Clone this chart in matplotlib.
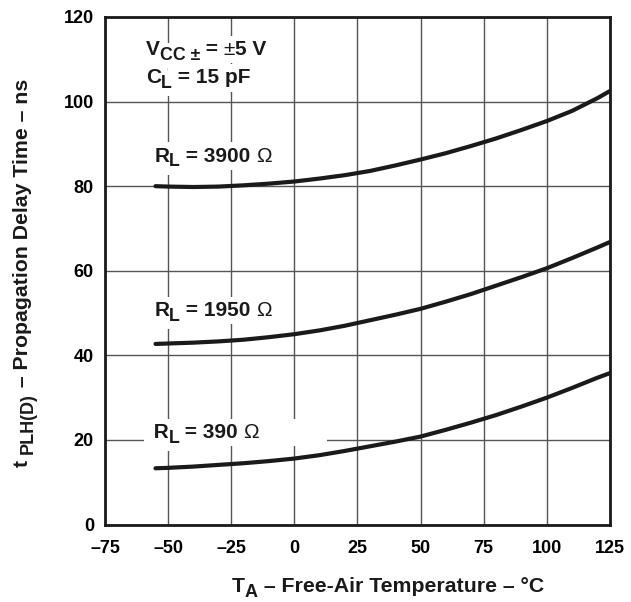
import matplotlib
matplotlib.use('Agg')
import matplotlib.pyplot as plt

plt.rcParams['font.family'] = ['Liberation Sans', 'DejaVu Sans']
plt.rcParams['font.weight'] = 'bold'

# temperature (degC)
temp = [-55, -50, -40, -30, -20, -10, 0, 10, 20, 30, 40, 50, 60, 70, 80, 90, 100, 110, 120, 125]
# propagation delay (ns) per load resistance
t_3900 = [80.0, 79.9, 79.8, 79.9, 80.2, 80.6, 81.1, 81.8, 82.6, 83.6, 84.9, 86.3, 87.8, 89.5,
          91.3, 93.3, 95.4, 97.8, 100.8, 102.5]
t_1950 = [42.7, 42.8, 43.0, 43.3, 43.7, 44.3, 45.0, 45.9, 47.0, 48.3, 49.6, 51.0, 52.7, 54.5,
          56.5, 58.5, 60.6, 63.0, 65.5, 66.8]
t_390 = [13.3, 13.4, 13.7, 14.1, 14.5, 15.0, 15.6, 16.4, 17.4, 18.5, 19.6, 20.8, 22.4, 24.1,
         25.9, 27.9, 30.0, 32.3, 34.7, 35.8]

xticks = [-75, -50, -25, 0, 25, 50, 75, 100, 125]
xlabels = ['\u201375', '\u201350', '\u201325', '0', '25', '50', '75', '100', '125']
yticks = [0, 20, 40, 60, 80, 100, 120]

SUB = 0.85
SHIFT = 3.5  # subscript drop, points


def rich(ax, x, y, parts, transform, size=15, color='#1a1a1a', bbox=None, rotation=0, z=3):
    # parts: (text, kind) with kind 'main', 'sub' or 'reg'
    prev = None
    prev_sub = False
    for s, kind in parts:
        sub = kind == 'sub'
        fs = size * SUB if sub else size
        fw = 'normal' if kind == 'reg' else 'bold'
        if prev is None:
            prev = ax.text(x, y, s, fontsize=fs, fontweight=fw, color=color, transform=transform,
                           ha='left', va='baseline', rotation=rotation, rotation_mode='anchor',
                           bbox=bbox, zorder=z)
        else:
            dy = 0
            if sub and not prev_sub:
                dy = -SHIFT
            elif prev_sub and not sub:
                dy = SHIFT
            if rotation == 0:
                prev = ax.annotate(s, xy=(1, 0), xycoords=prev, xytext=(0, dy),
                                   textcoords='offset points', ha='left', va='bottom',
                                   fontsize=fs, fontweight=fw, color=color, bbox=bbox, zorder=z)
            else:
                prev = ax.annotate(s, xy=(1, 1), xycoords=prev, xytext=(-dy, 0),
                                   textcoords='offset points', ha='right', va='bottom',
                                   rotation=rotation, fontsize=fs, fontweight=fw, color=color,
                                   bbox=bbox, zorder=z)
        prev_sub = sub


def boxed(ax, x, y, parts):
    box = dict(facecolor='white', edgecolor='none', pad=3)
    rich(ax, x, y, parts, ax.transData, color='white', bbox=box, z=3)
    rich(ax, x, y, parts, ax.transData, z=3.5)


fig = plt.figure(figsize=(6.31, 6.02), dpi=100)
ax = fig.add_axes([0.1664, 0.1287, 0.8003, 0.8431])

for x in xticks:
    ax.axvline(x, color='#555555', lw=1.0, zorder=1)
for y in yticks:
    ax.axhline(y, color='#555555', lw=1.0, zorder=1)

for ys in (t_3900, t_1950, t_390):
    ax.plot(temp, ys, color='#1a1a1a', lw=3.0, solid_capstyle='round', zorder=4)

boxed(ax, -58.8, 111.0, [('V', 'main'), ('CC \u00b1', 'sub'), (' = ', 'main'),
                         ('\u00b1', 'reg'), ('5 V', 'main')])
boxed(ax, -58.8, 104.3, [('C', 'main'), ('L', 'sub'), (' = 15 pF', 'main')])
boxed(ax, -55.5, 85.8, [('R', 'main'), ('L', 'sub'), (' = 3900 ', 'main'), ('\u03a9', 'reg')])
boxed(ax, -55.5, 49.3, [('R', 'main'), ('L', 'sub'), (' = 1950 ', 'main'), ('\u03a9', 'reg')])
boxed(ax, -58.0, 20.4, [(' R', 'main'), ('L', 'sub'), (' = 390 ', 'main'),
                        ('\u03a9           ', 'reg')])

ax.set_xlim(-75, 125)
ax.set_ylim(0, 120)
ax.set_xticks(xticks)
ax.set_xticklabels(xlabels)
ax.set_yticks(yticks)
ax.tick_params(length=0, labelsize=13)
ax.tick_params(axis='x', pad=11)
ax.tick_params(axis='y', pad=8)
for lab in ax.get_xticklabels() + ax.get_yticklabels():
    lab.set_fontweight('bold')
for s in ax.spines.values():
    s.set_linewidth(2.0)
    s.set_color('#1a1a1a')
    s.set_zorder(5)

# axis titles
rich(ax, 0.3677, 0.0166, [('T', 'main'), ('A', 'sub'),
                          (' \u2013 Free-Air Temperature \u2013 \u00b0C', 'main')],
     fig.transFigure, size=15.3)
rich(ax, 0.0445, 0.2243, [('t ', 'main'), ('PLH(D)', 'sub'),
                          (' \u2013 Propagation Delay Time \u2013 ns', 'main')],
     fig.transFigure, size=15.3, rotation=90)

fig.savefig('out.png', dpi=100)
